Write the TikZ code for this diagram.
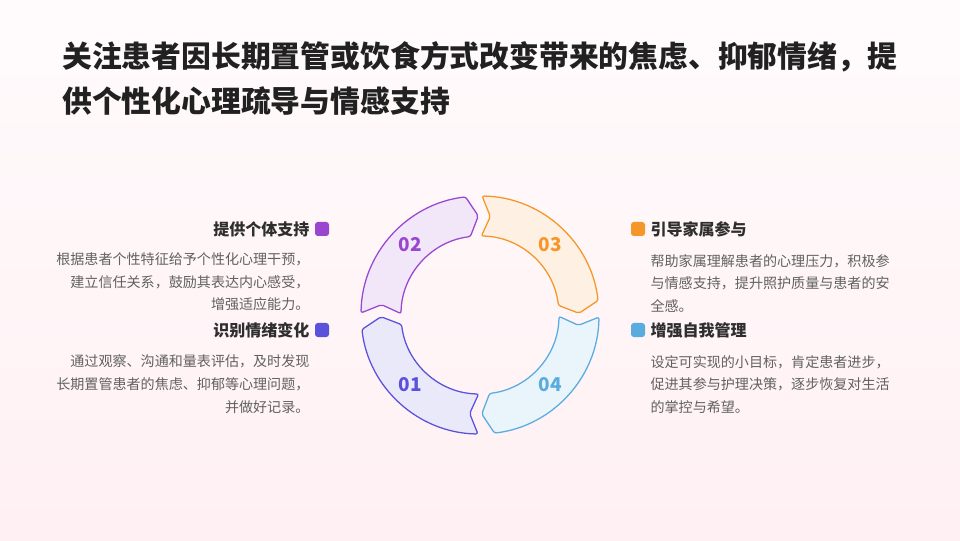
\documentclass[tikz,border=0pt]{standalone}
\usepackage{fontspec}
\setmainfont{Noto Sans CJK SC}
\usepackage{xcolor}
\usetikzlibrary{positioning}

\definecolor{cOne}{HTML}{5B52DC}
\definecolor{cTwo}{HTML}{9A47D0}
\definecolor{cThree}{HTML}{F5962A}
\definecolor{cFour}{HTML}{5AACDF}
\definecolor{bgTop}{HTML}{FFFBFC}
\definecolor{bgBot}{HTML}{FFF0F3}

\begin{document}
\begin{tikzpicture}[
    x=0.025cm, y=0.025cm,
    seg/.style={draw=#1, fill=#1!13, line width=0.9pt, rounded corners=1.5pt},
    num/.style={text=#1, font=\bfseries\fontsize{13.5}{15}\selectfont},
    dot/.style={rectangle, fill=#1, minimum size=0.35cm, inner sep=0pt, rounded corners=2pt},
    title/.style={font=\bfseries\fontsize{21.2}{32}\selectfont, text=black!87, align=left, inner sep=0pt},
    head/.style={font=\bfseries\fontsize{11.4}{13}\selectfont, text=black!82, inner sep=0pt},
    desc/.style={font=\fontsize{10}{16.2}\selectfont, text=black!62, inner sep=0pt},
  ]
  % background
  \shade[top color=bgTop, bottom color=bgBot] (0,0) rectangle (960,540);
  \useasboundingbox (0,0) rectangle (960,540);

  % Title
  \node[title, anchor=north west] (title) at (62,499)
    {关注患者因长期置管或饮食方式改变带来的焦虑、抑郁情绪，提\\供个性化心理疏导与情感支持};

  % Ring
  \begin{scope}[shift={(480,225)}]
    \draw[seg=cOne] (269:119) arc[start angle=269, end angle=187, radius=119] -- (181:99)
      -- (187:79) arc[start angle=187, end angle=269, radius=79] -- (264:99) -- cycle;
    \draw[seg=cTwo] (179:119) arc[start angle=179, end angle=97, radius=119] -- (91:99)
      -- (97:79) arc[start angle=97, end angle=179, radius=79] -- (174:99) -- cycle;
    \draw[seg=cThree] (89:119) arc[start angle=89, end angle=7, radius=119] -- (1:99)
      -- (7:79) arc[start angle=7, end angle=89, radius=79] -- (84:99) -- cycle;
    \draw[seg=cFour] (359:119) arc[start angle=359, end angle=277, radius=119] -- (271:99)
      -- (277:79) arc[start angle=277, end angle=359, radius=79] -- (354:99) -- cycle;

    \node[num=cOne] (n1) at (225:99) {01};
    \node[num=cTwo] (n2) at (135:99) {02};
    \node[num=cThree] (n3) at (45:99) {03};
    \node[num=cFour] (n4) at (315:99) {04};
  \end{scope}

  % Left side
  \node[dot=cTwo] (sq2) at (322,311) {};
  \node[head, left=0.125cm of sq2] (h2) {提供个体支持};
  \node[desc, below=0.38cm of h2.south east, anchor=north east, align=right] (d2)
    {根据患者个性特征给予个性化心理干预，\\建立信任关系，鼓励其表达内心感受，\\增强适应能力。};

  \node[dot=cOne] (sq1) at (322,210) {};
  \node[head, left=0.125cm of sq1] (h1) {识别情绪变化};
  \node[desc, below=0.42cm of h1.south east, anchor=north east, align=right] (d1)
    {通过观察、沟通和量表评估，及时发现\\长期置管患者的焦虑、抑郁等心理问题，\\并做好记录。};

  % Right side
  \node[dot=cThree] (sq3) at (638,311) {};
  \node[head, right=0.125cm of sq3] (h3) {引导家属参与};
  \node[desc, below=0.42cm of h3.south west, anchor=north west, align=left] (d3)
    {帮助家属理解患者的心理压力，积极参\\与情感支持，提升照护质量与患者的安\\全感。};

  \node[dot=cFour] (sq4) at (638,210) {};
  \node[head, right=0.125cm of sq4] (h4) {增强自我管理};
  \node[desc, below=0.42cm of h4.south west, anchor=north west, align=left] (d4)
    {设定可实现的小目标，肯定患者进步，\\促进其参与护理决策，逐步恢复对生活\\的掌控与希望。};
\end{tikzpicture}
\end{document}
